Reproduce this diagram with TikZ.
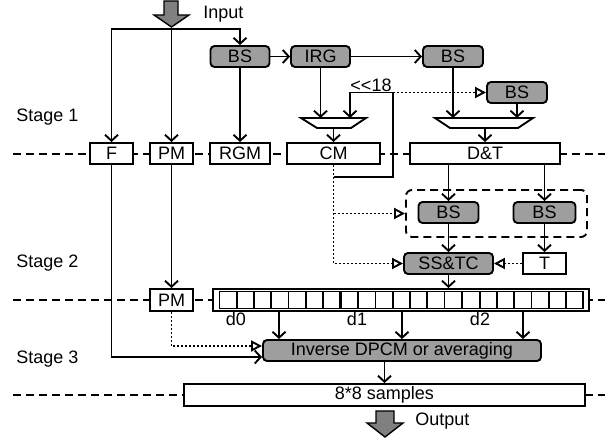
\documentclass[tikz,border=0pt]{standalone}
\usepackage{fontspec}
\setmainfont{Liberation Sans}
\usetikzlibrary{arrows.meta}

\begin{document}
\begin{tikzpicture}[
                    x=0.5pt, y=-0.5pt,
                    every node/.style={inner sep=0pt, font=\fontsize{9}{11}\selectfont},
                    graybox/.style={draw, fill=black!38, rounded corners=2pt, line width=0.95pt, minimum height=10.5pt},
                    whitebox/.style={draw, fill=white, line width=0.95pt, minimum height=10.5pt},
                    arr/.style={line width=0.95pt, -{Straight Barb[length=3pt,width=6.5pt]}},
                    dotarr/.style={line width=0.95pt, dash pattern=on 1pt off 1pt, -{Triangle[open,length=5.5pt,width=5.5pt]}},
                    stageline/.style={line width=0.95pt, dash pattern=on 4pt off 2.5pt},
                    bigarrow/.style={draw, line width=0.7pt, fill=black!50}
                  ]
                  \useasboundingbox (0,0) rectangle (611,438);
                  \draw[stageline] (13,154) -- (605,154);
                  \draw[stageline] (13,300) -- (605,300);
                  \draw[stageline] (13,395) -- (605,395);

                  \node[anchor=west] (st1) at (16,117) {Stage 1};
                  \node[anchor=west] (st2) at (16,263) {Stage 2};
                  \node[anchor=west] (st3) at (16,359) {Stage 3};

                  \draw[bigarrow] (164,1) -- (178,1) -- (178,15) -- (189,15) -- (171.5,27) -- (154,15) -- (164,15) -- cycle;
                  \node[anchor=west] (in) at (203,14) {Input};
                  \draw[bigarrow] (376,411) -- (394,411) -- (394,423) -- (403,423) -- (385,437) -- (367,423) -- (376,423) -- cycle;
                  \node[anchor=west] (out) at (415,421) {Output};

                  \node[graybox, minimum width=29.5pt] (bs1) at (240,56.5) {BS};
                  \node[graybox, minimum width=29.5pt] (irg) at (320.5,56.5) {IRG};
                  \node[graybox, minimum width=30pt] (bs2) at (453,56.5) {BS};
                  \node[graybox, minimum width=30pt] (bs3) at (517,92.5) {BS};
                  \node (shl) at (371,85) {{<}{<}18};

                  \draw[line width=0.95pt] (301,118) -- (366,118) -- (351,128) -- (317,128) -- cycle;
                  \draw[line width=0.95pt] (435,118) -- (533,118) -- (518,128) -- (450,128) -- cycle;
                  \coordinate (muxl) at (333.5,128);
                  \coordinate (mla) at (320.5,118);
                  \coordinate (mlb) at (350,118);
                  \coordinate (muxr) at (485,128);
                  \coordinate (mra) at (453,118);
                  \coordinate (mrb) at (517,118);

                  \node[whitebox, minimum width=21.5pt] (f) at (111.5,153.5) {F};
                  \node[whitebox, minimum width=21.5pt] (pm1) at (171.5,153.5) {PM};
                  \node[whitebox, minimum width=30pt] (rgm) at (240,153.5) {RGM};
                  \node[whitebox, minimum width=46.5pt] (cm) at (333.5,153.5) {CM};
                  \node[whitebox, minimum width=75pt] (dt) at (485,153.5) {D\&T};

                  \node[draw, line width=0.95pt, dash pattern=on 4pt off 2.5pt, rounded corners=3pt,
                        minimum width=90.5pt, minimum height=23.5pt] (grp) at (496.5,213.5) {};
                  \node[graybox, minimum width=30pt] (bs4) at (448.5,212.5) {BS};
                  \node[graybox, minimum width=31pt] (bs5) at (544.5,212.5) {BS};
                  \node[graybox, minimum width=44.5pt] (sstc) at (448.5,263.5) {SS\&TC};
                  \node[whitebox, minimum width=21.5pt] (t) at (544.5,263.5) {T};

                  \node[whitebox, minimum width=21.5pt, minimum height=11pt] (pm2) at (171.5,300) {PM};
                  \node[whitebox, minimum width=188pt, minimum height=11pt] (reg) at (401,300) {};
                  \foreach \g in {0,1,2}
                    \foreach \c in {0,...,6}
                      \draw[line width=0.95pt] ({219.5+\g*121.5+\c*17.25},291.5) rectangle +(17.25,17);
                  \node (d0) at (236,319) {d0};
                  \node (d1) at (357,319) {d1};
                  \node (d2) at (480,319) {d2};
                  \coordinate (o0) at (279,311);
                  \coordinate (o1) at (402,311);
                  \coordinate (o2) at (523,311);

                  \node[graybox, minimum width=139pt] (inv) at (402,350.5) {Inverse DPCM or averaging};
                  \node[whitebox, minimum width=200.5pt, minimum height=11pt] (samp) at (384.5,395) {8*8 samples};

                  \coordinate (split) at (171.5,29);
                  \draw[arr] (split) -| (f);
                  \draw[arr] (split) -- (pm1);
                  \draw[arr] (split) -| (bs1);
                  \draw[arr] (bs1) -- (rgm);
                  \draw[arr] (bs1) -- (irg);
                  \draw[arr] (irg) -- (bs2);
                  \draw[arr] (irg) -- (mla);
                  \draw[arr] (bs2) -- (mra);
                  \draw[arr] (bs3) -- (mrb);
                  \draw[arr] (muxl) -- (cm);
                  \draw[arr] (muxr) -- (dt);

                  \coordinate (fb) at (333.5,177);
                  \coordinate (sh) at (393,92.5);
                  \draw[arr] (fb) -| (sh) -| (mlb);
                  \draw[dotarr] (sh) -- (bs3);
                  \draw[dotarr] (cm.south) |- (sstc);
                  \draw[dotarr] (cm.south |- grp) -- (grp);

                  \draw[arr] (dt.south -| bs4) -- (bs4);
                  \draw[arr] (dt.south -| bs5) -- (bs5);
                  \draw[arr] (bs4) -- (sstc);
                  \draw[arr] (bs5) -- (t);
                  \draw[dotarr] (t) -- (sstc);
                  \draw[arr] (sstc) -- (sstc |- reg.north);

                  \draw[arr] (pm1) -- (pm2);
                  \draw[arr] (o0) -- (o0 |- inv.north);
                  \draw[arr] (o1) -- (o1 |- inv.north);
                  \draw[arr] (o2) -- (o2 |- inv.north);
                  \draw[arr] (f) |- ([yshift=-3.25pt]inv.west);
                  \draw[dotarr] (pm2) |- ([yshift=2.25pt]inv.west);
                  \draw[arr] (inv.south -| samp) -- (samp);
                \end{tikzpicture}
\end{document}
